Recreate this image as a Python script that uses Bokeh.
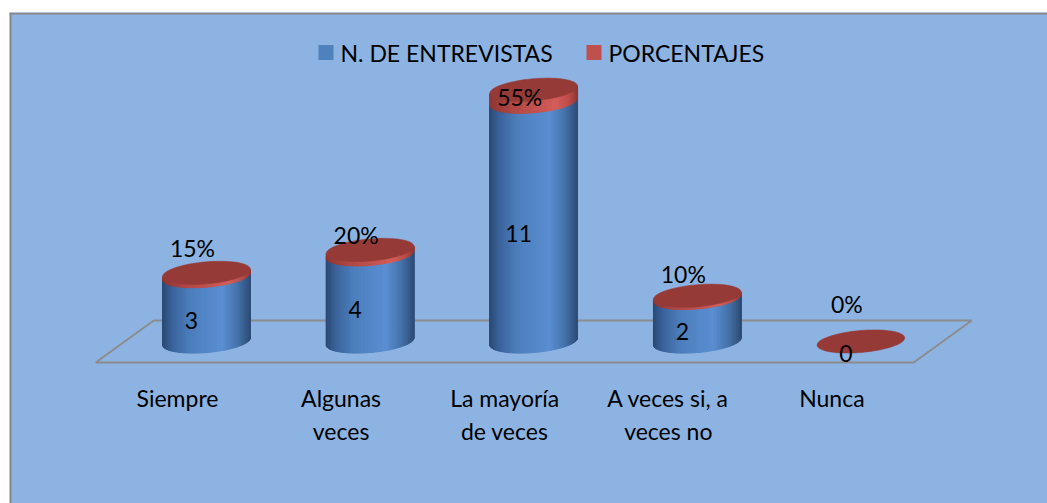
import numpy as np
from bokeh.plotting import figure
from bokeh.models import Range1d, Span
from bokeh.core.properties import value
from bokeh.embed import file_html
from bokeh.resources import INLINE

# ---------------- data ----------------
categories = ["Siempre", "Algunas\nveces", "La mayoría\nde veces", "A veces si, a\nveces no", "Nunca"]
entrevistas = [3, 4, 11, 2, 0]
porcentajes = [0.15, 0.20, 0.55, 0.10, 0.00]
etiquetas_pct = ["15%", "20%", "55%", "10%", "0%"]
series = ["N. DE ENTREVISTAS", "PORCENTAJES"]
series_colors = ["#4F81BD", "#C0504D"]

# ---------------- geometry / style ----------------
W, H = 1047, 503
BORDER_L, BORDER_T = 9, 12
FRAME_W, FRAME_H = W - BORDER_L, H - BORDER_T
PX_CAT = 163.6          # px per category
PX_VAL = 21.8           # px per value unit
X0_PX = 197             # frame px of first category centre
Y0_PX = 162             # frame px (from bottom) of value 0
RX, RY = 44, 11         # ellipse radii (px)
TILT = np.deg2rad(5)
DEPTH_X, DEPTH_Y = 58, 42
FONT = "Lato"
FS = "23px"
pct_label_dy = [25, 15, -7, 22, 38]   # label nudges (px)
LEG_SWATCH_X = [316.5, 584.5]         # legend swatch centres (frame px from left)
LEG_Y = 40                            # legend row centre (frame px from top)
LEG_SW = 15

BG = "#8DB3E2"
BLUE_STOPS = [(0.0, "#2B4A75"), (0.12, "#3C659E"), (0.3, "#4C7EBC"), (0.5, "#5387C8"),
              (0.68, "#5A8ED2"), (0.85, "#4573AA"), (1.0, "#2E4D78")]
RED_STOPS = [(0.0, "#8E3533"), (0.25, "#B04744"), (0.55, "#C65350"), (0.75, "#D45E5A"),
             (0.9, "#BC4C49"), (1.0, "#8F3634")]
RED_TOP = "#953A37"


def sx(px):
    return px / PX_CAT


def sy(px):
    return px / PX_VAL


def hex2rgb(h):
    h = h.lstrip("#")
    return np.array([int(h[i:i + 2], 16) for i in (0, 2, 4)], dtype=float)


def shade(stops, u):
    for (u0, c0), (u1, c1) in zip(stops[:-1], stops[1:]):
        if u0 <= u <= u1:
            f = (u - u0) / (u1 - u0) if u1 > u0 else 0
            c = hex2rgb(c0) * (1 - f) + hex2rgb(c1) * f
            return "#%02x%02x%02x" % tuple(int(round(v)) for v in c)
    return stops[-1][1]


def ell(t):
    ex, ey = RX * np.cos(t), RY * np.sin(t)
    return ex * np.cos(TILT) - ey * np.sin(TILT), ex * np.sin(TILT) + ey * np.cos(TILT)


x_range = Range1d(-X0_PX / PX_CAT, (FRAME_W - X0_PX) / PX_CAT)
y_range = Range1d(-Y0_PX / PX_VAL, (FRAME_H - Y0_PX) / PX_VAL)
p = figure(width=W, height=H, output_backend="svg", toolbar_location=None,
           x_range=x_range, y_range=y_range,
           x_axis_location=None, y_axis_location=None,
           min_border_left=BORDER_L, min_border_right=0, min_border_top=BORDER_T, min_border_bottom=0)
p.grid.visible = False
p.background_fill_color = BG
p.border_fill_color = "white"
p.outline_line_color = None

# chart border (top and left visible)
p.add_layout(Span(location=x_range.start + sx(1), dimension="height", line_color="#878787", line_width=2))
p.add_layout(Span(location=y_range.end - sy(1), dimension="width", line_color="#878787", line_width=2))

# floor
n = len(categories)
fx = [-0.5 - sx(DEPTH_X / 2), n - 0.5 - sx(DEPTH_X / 2), n - 0.5 + sx(DEPTH_X / 2), -0.5 + sx(DEPTH_X / 2),
      -0.5 - sx(DEPTH_X / 2)]
fy = [-sy(DEPTH_Y / 2), -sy(DEPTH_Y / 2), sy(DEPTH_Y / 2), sy(DEPTH_Y / 2), -sy(DEPTH_Y / 2)]
p.line(fx, fy, line_color="#8C8C8C", line_width=2)

# cylinders
NSTRIP = 48
ts = np.linspace(np.pi, 2 * np.pi, NSTRIP + 1)
tf = np.linspace(0, 2 * np.pi, 73)


def body(i, v0, v1, stops):
    xs, ys, cs = [], [], []
    for ta, tb in zip(ts[:-1], ts[1:]):
        xa, ya = ell(ta)
        xb, yb = ell(tb)
        xs.append([i + sx(xa), i + sx(xb), i + sx(xb), i + sx(xa)])
        ys.append([v0 + sy(ya), v0 + sy(yb), v1 + sy(yb), v1 + sy(ya)])
        u = (np.cos((ta + tb) / 2) + 1) / 2
        cs.append(shade(stops, u))
    p.patches(xs, ys, fill_color=cs, line_color=cs, line_width=1)


for i, (v, pc) in enumerate(zip(entrevistas, porcentajes)):
    if v > 0:
        body(i, 0, v, BLUE_STOPS)
    if pc > 0:
        body(i, v, v + pc, RED_STOPS)
    ex, ey = ell(tf)
    p.patch(i + sx(ex), v + pc + sy(ey), fill_color=RED_TOP, line_color=RED_TOP, line_width=0.5)

# data labels
for i, v in enumerate(entrevistas):
    p.text([i - sx(15)], [v / 2 - sy(11.5)], text=[str(v)], text_align="center", text_baseline="middle",
           text_font=value(FONT), text_font_size=FS, text_color="black")
for i, (v, pc, lab) in enumerate(zip(entrevistas, porcentajes, etiquetas_pct)):
    p.text([i - sx(14)], [v + pc + sy(pct_label_dy[i])], text=[lab], text_align="center",
           text_baseline="middle", text_font=value(FONT), text_font_size=FS, text_color="black")

# category labels
for i, c in enumerate(categories):
    for j, line in enumerate(c.split("\n")):
        p.text([i - sx(DEPTH_X / 2)], [-sy(56) - sy(33) * j], text=[line], text_align="center",
               text_baseline="middle", text_font=value(FONT), text_font_size=FS, text_color="black")

# legend
for name, col, lx in zip(series, series_colors, LEG_SWATCH_X):
    lxd = x_range.start + sx(lx)
    lyd = y_range.end - sy(LEG_Y)
    p.rect([lxd], [lyd], width=LEG_SW, height=LEG_SW, width_units="screen", height_units="screen",
           fill_color=col, line_color=None)
    p.text([lxd + sx(LEG_SW / 2 + 7)], [lyd], text=[name], text_align="left", text_baseline="middle",
           text_font=value(FONT), text_font_size=FS, text_color="black")

open("out.html", "w").write(file_html(p, INLINE))
